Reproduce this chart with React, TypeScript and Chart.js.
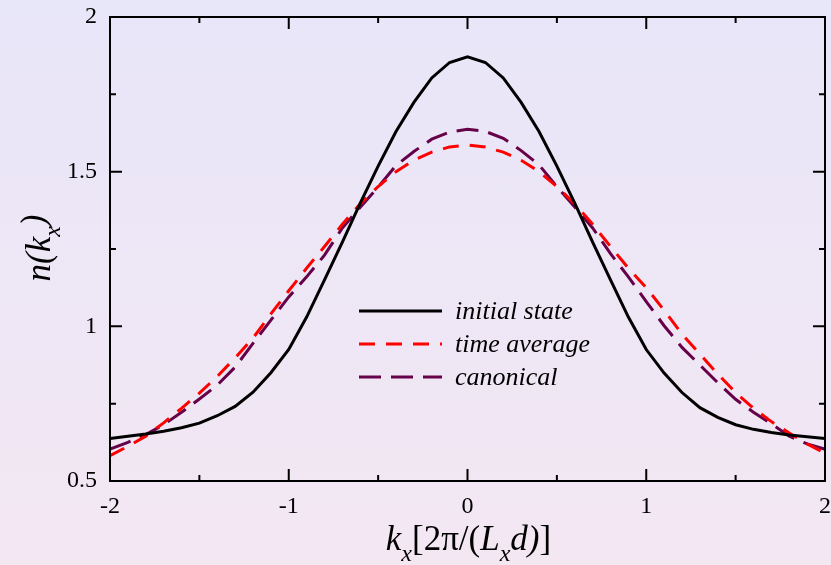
import React, { useEffect, useRef } from 'react';
import { Chart, registerables } from 'chart.js';
Chart.register(...registerables);

const kx = [-2.0, -1.9, -1.8, -1.7, -1.6, -1.5, -1.4, -1.3, -1.2, -1.1, -1.0, -0.9, -0.8, -0.7, -0.6, -0.5, -0.4, -0.3, -0.2, -0.1, 0.0,
  0.1, 0.2, 0.3, 0.4, 0.5, 0.6, 0.7, 0.8, 0.9, 1.0, 1.1, 1.2, 1.3, 1.4, 1.5, 1.6, 1.7, 1.8, 1.9, 2.0];

const initialState = [0.637, 0.645, 0.652, 0.661, 0.672, 0.687, 0.711, 0.741, 0.787, 0.850, 0.925, 1.030, 1.150, 1.272, 1.398, 1.518, 1.630, 1.724, 1.803, 1.853, 1.871,
  1.853, 1.803, 1.724, 1.630, 1.518, 1.398, 1.272, 1.150, 1.030, 0.925, 0.849, 0.786, 0.737, 0.706, 0.682, 0.667, 0.657, 0.649, 0.643, 0.637];

const timeAverage = [0.582, 0.612, 0.645, 0.688, 0.735, 0.784, 0.838, 0.898, 0.962, 1.040, 1.115, 1.188, 1.258, 1.330, 1.396, 1.452, 1.500, 1.537, 1.563, 1.580, 1.586,
  1.580, 1.563, 1.537, 1.500, 1.452, 1.396, 1.330, 1.258, 1.188, 1.125, 1.052, 0.975, 0.910, 0.846, 0.786, 0.735, 0.692, 0.655, 0.620, 0.590];

const canonical = [0.603, 0.625, 0.650, 0.682, 0.722, 0.765, 0.810, 0.868, 0.945, 1.020, 1.095, 1.160, 1.230, 1.318, 1.385, 1.450, 1.520, 1.565, 1.605, 1.628, 1.637,
  1.630, 1.608, 1.568, 1.522, 1.452, 1.386, 1.318, 1.235, 1.160, 1.080, 1.002, 0.932, 0.875, 0.818, 0.764, 0.722, 0.685, 0.645, 0.620, 0.603];

const seriesLabels = ['initial state', 'time average', 'canonical'];
const xMajorTicks = [-2, -1, 0, 1, 2];
const xMinorTicks = [-1.5, -0.5, 0.5, 1.5];
const yMajorTicks = [0.5, 1, 1.5, 2];
const yMinorTicks = [0.75, 1.25, 1.75];

type Seg = { t: string; font: string; dy: number };

function drawSegs(ctx: CanvasRenderingContext2D, segs: Seg[], cx: number, by: number) {
  ctx.textAlign = 'left';
  ctx.textBaseline = 'alphabetic';
  const widths = segs.map((s) => {
    ctx.font = s.font;
    return ctx.measureText(s.t).width;
  });
  const total = widths.reduce((a, b) => a + b, 0);
  let x = cx - total / 2;
  segs.forEach((s, i) => {
    ctx.font = s.font;
    ctx.fillText(s.t, x, by + s.dy);
    x += widths[i];
  });
}

const SERIF = "'Liberation Serif', 'Times New Roman', serif";
const IT = (px: number) => `italic ${px}px ${SERIF}`;
const UP = (px: number) => `${px}px ${SERIF}`;

const decorPlugin = {
  id: 'decor',
  afterDatasetsDraw(chart: any) {
    const ctx: CanvasRenderingContext2D = chart.ctx;
    const { left, right, top, bottom } = chart.chartArea;
    const xs = chart.scales.x;
    const ys = chart.scales.y;
    ctx.save();
    ctx.strokeStyle = '#000';
    ctx.lineWidth = 2;
    ctx.strokeRect(left, top, right - left, bottom - top);
    const tick = (vals: number[], len: number) => {
      vals.forEach((v) => {
        const px = xs.getPixelForValue(v);
        ctx.beginPath();
        ctx.moveTo(px, bottom);
        ctx.lineTo(px, bottom - len);
        ctx.moveTo(px, top);
        ctx.lineTo(px, top + len);
        ctx.stroke();
      });
    };
    const ytick = (vals: number[], len: number) => {
      vals.forEach((v) => {
        const py = ys.getPixelForValue(v);
        ctx.beginPath();
        ctx.moveTo(left, py);
        ctx.lineTo(left + len, py);
        ctx.moveTo(right, py);
        ctx.lineTo(right - len, py);
        ctx.stroke();
      });
    };
    tick(xMajorTicks, 12);
    tick(xMinorTicks, 6);
    ytick(yMajorTicks, 12);
    ytick(yMinorTicks, 6);

    // legend
    chart.data.datasets.forEach((ds: any, i: number) => {
      const ly = 311 + i * 33;
      ctx.beginPath();
      ctx.strokeStyle = ds.borderColor;
      ctx.lineWidth = 3;
      ctx.setLineDash(ds.borderDash || []);
      ctx.moveTo(359, ly);
      ctx.lineTo(442, ly);
      ctx.stroke();
      ctx.setLineDash([]);
      ctx.fillStyle = '#000';
      ctx.font = IT(26);
      ctx.textAlign = 'left';
      ctx.textBaseline = 'alphabetic';
      ctx.fillText(ds.label, 455, ly + 8);
    });

    // axis titles
    ctx.fillStyle = '#000';
    drawSegs(ctx, [
      { t: 'k', font: IT(35), dy: 0 },
      { t: 'x', font: IT(24), dy: 11 },
      { t: '[2π/(', font: UP(35), dy: 0 },
      { t: 'L', font: IT(35), dy: 0 },
      { t: 'x', font: IT(24), dy: 11 },
      { t: 'd)', font: IT(35), dy: 0 },
      { t: ']', font: UP(35), dy: 0 },
    ], (left + right) / 2 + 1, 550);

    ctx.translate(50, 248);
    ctx.rotate(-Math.PI / 2);
    drawSegs(ctx, [
      { t: 'n(k', font: IT(35), dy: 0 },
      { t: 'x', font: IT(24), dy: 10 },
      { t: ')', font: IT(35), dy: -5 },
    ], 0, 0);
    ctx.restore();
  },
};

const zeroPad = (s: any) => {
  s.paddingTop = 0;
  s.paddingBottom = 0;
  s.paddingLeft = 0;
  s.paddingRight = 0;
};

export default function App() {
  const ref = useRef<HTMLCanvasElement>(null);
  useEffect(() => {
    if (!ref.current) return;
    const mk = (vals: number[]) => vals.map((v, i) => ({ x: kx[i], y: v }));
    const chart = new Chart(ref.current, {
      type: 'line',
      data: {
        datasets: [
          { label: seriesLabels[0], data: mk(initialState), borderColor: '#000000', borderWidth: 3, pointRadius: 0, tension: 0, fill: false },
          { label: seriesLabels[1], data: mk(timeAverage), borderColor: '#ff0000', borderWidth: 3, borderDash: [16, 11], pointRadius: 0, tension: 0, fill: false },
          { label: seriesLabels[2], data: mk(canonical), borderColor: '#660048', borderWidth: 3, borderDash: [22, 10], pointRadius: 0, tension: 0, fill: false },
        ],
      },
      options: {
        responsive: false,
        animation: false,
        events: [],
        layout: { autoPadding: false, padding: { top: 17, right: 6, left: 0, bottom: 0 } },
        plugins: { legend: { display: false }, tooltip: { enabled: false } },
        scales: {
          x: {
            type: 'linear',
            min: -2,
            max: 2,
            grid: { display: false, drawTicks: false },
            border: { display: false },
            ticks: {
              stepSize: 1,
              padding: 11,
              color: '#000',
              font: { family: SERIF, size: 24 },
              callback: (v: any) => String(v),
            },
            afterFit: (s: any) => { s.height = 84; zeroPad(s); },
          },
          y: {
            type: 'linear',
            min: 0.5,
            max: 2,
            grid: { display: false, drawTicks: false },
            border: { display: false },
            ticks: {
              stepSize: 0.5,
              padding: 13,
              color: '#000',
              font: { family: SERIF, size: 24 },
              callback: (v: any) => String(v),
            },
            afterFit: (s: any) => { s.width = 110; zeroPad(s); },
          },
        },
      },
      plugins: [decorPlugin],
    } as any);
    return () => chart.destroy();
  }, []);
  return (
    <div style={{ position: 'fixed', left: 0, top: 0, width: 831, height: 565, background: 'linear-gradient(to bottom, #e8e6f9, #f3e7f2)' }}>
      <canvas ref={ref} width={831} height={565} style={{ display: 'block' }} />
    </div>
  );
}
